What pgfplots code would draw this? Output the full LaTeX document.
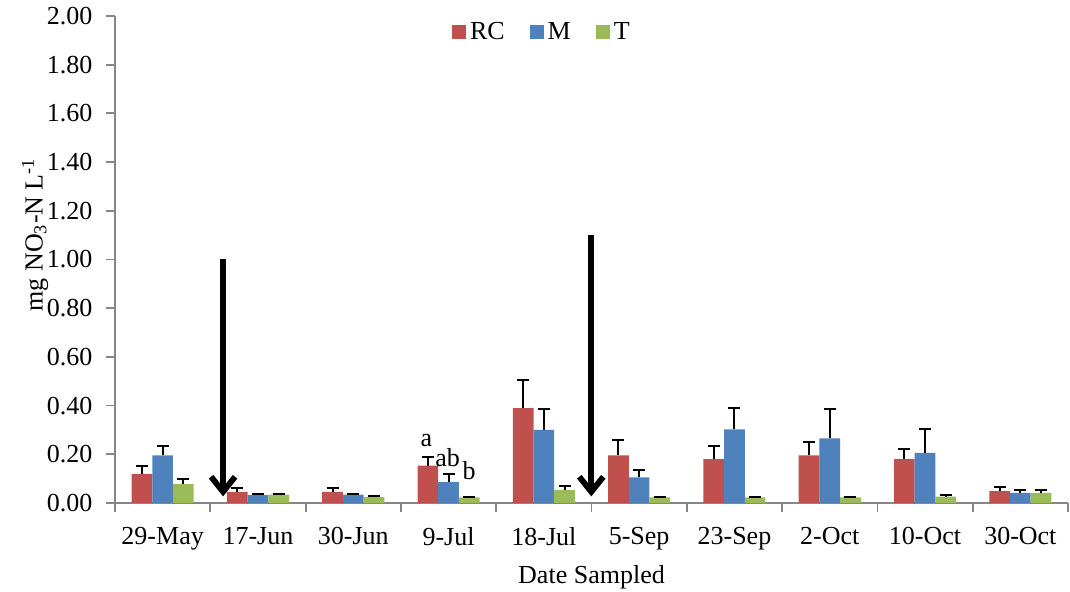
\documentclass[border=0pt]{standalone}
\usepackage{pgfplots}
\pgfplotsset{compat=1.18}
\usepackage{pgfplotstable}
\usepackage{fontspec}
\setmainfont{Liberation Serif}
\usetikzlibrary{arrows.meta}

\definecolor{rcred}{HTML}{C0504D}
\definecolor{mblue}{HTML}{4F81BD}
\definecolor{tgreen}{HTML}{9BBB59}
\definecolor{axisgray}{HTML}{868686}

% x = sampling date index, y = mean nitrate, e = upper error
\pgfplotstableread{
x y e
0 0.120 0.030
1 0.046 0.014
2 0.046 0.014
3 0.153 0.036
4 0.390 0.115
5 0.196 0.064
6 0.180 0.055
7 0.196 0.053
8 0.180 0.040
9 0.049 0.018
}\rcdata
\pgfplotstableread{
x y e
0 0.196 0.040
1 0.032 0.004
2 0.034 0.002
3 0.086 0.032
4 0.300 0.088
5 0.105 0.029
6 0.302 0.088
7 0.265 0.121
8 0.206 0.096
9 0.042 0.013
}\mdata
\pgfplotstableread{
x y e
0 0.078 0.021
1 0.034 0.003
2 0.024 0.005
3 0.023 0.003
4 0.053 0.018
5 0.023 0.002
6 0.023 0.002
7 0.023 0.002
8 0.026 0.005
9 0.042 0.010
}\tdata

\begin{document}
\begin{tikzpicture}[font=\fontsize{13pt}{15.5pt}\selectfont]
\path[use as bounding box] (-57.5pt,-44.5pt) rectangle (477.5pt,251.5pt);
\begin{axis}[
  scale only axis,
  width=476.5pt, height=243.5pt,
  at={(0pt,0pt)}, anchor=south west,
  ymin=0, ymax=2, ytick={0,0.2,...,2.01},
  xmin=-0.5, xmax=9.5,
  xtick={-0.5,0.5,...,9.5},
  x tick label as interval,
  xticklabels={29-May,17-Jun,30-Jun,9-Jul,18-Jul,5-Sep,23-Sep,2-Oct,10-Oct,30-Oct},
  axis x line*=bottom, axis y line*=left,
  axis line style={axisgray, line width=0.9pt, -},
  tick style={axisgray, line width=0.9pt},
  tick align=outside,
  major tick length=4.3pt,
  /pgf/number format/assume math mode=true,
  yticklabel style={xshift=-3.5pt, /pgf/number format/fixed, /pgf/number format/fixed zerofill, /pgf/number format/precision=2},
  xticklabel style={yshift=-4.5pt},
  xlabel={Date Sampled},
  ylabel={mg NO\textsubscript{3}-N L\textsuperscript{-1}},
  xlabel style={at={(axis description cs:0.5,0)}, anchor=center, yshift=-37pt},
  ylabel style={at={(axis description cs:-0.084,0.551)}, anchor=center},
  ybar, bar width=0.217,
  legend style={draw=none, at={(axis description cs:0.449,0.967)}, anchor=center,
    legend columns=-1, font=\fontsize{13pt}{15.5pt}\selectfont,
    /tikz/every even column/.style={column sep=10.5pt}},
  legend image code/.code={\fill[#1] (0pt,-3.5pt) rectangle (7pt,3.5pt);},
  error bars/y dir=plus, error bars/y explicit,
  error bars/error bar style={black, line width=1pt},
  error bars/error mark options={black, rotate=90, mark size=3pt, line width=1pt},
  clip=false,
]
\addplot[fill=rcred, draw=none, bar shift=-0.217] table[x=x, y=y, y error=e] {\rcdata};
\addplot[fill=mblue, draw=none, bar shift=0] table[x=x, y=y, y error=e] {\mdata};
\addplot[fill=tgreen, draw=none, bar shift=0.217] table[x=x, y=y, y error=e] {\tdata};
\legend{RC,M,T}

% significance letters for 9-Jul
\node[anchor=base, inner sep=0pt] at (axis cs:2.767,0.231) {a};
\node[anchor=base, inner sep=0pt] at (axis cs:2.99,0.149) {ab};
\node[anchor=base, inner sep=0pt] at (axis cs:3.217,0.096) {b};

% event arrows
\draw[line width=2.9pt, -{Straight Barb[length=7.5pt, width=12pt]}] (axis cs:0.634,1.00) -- (axis cs:0.634,0.027);
\draw[line width=2.9pt, -{Straight Barb[length=7.5pt, width=12pt]}] (axis cs:4.498,1.10) -- (axis cs:4.498,0.027);
\end{axis}
\end{tikzpicture}
\end{document}
